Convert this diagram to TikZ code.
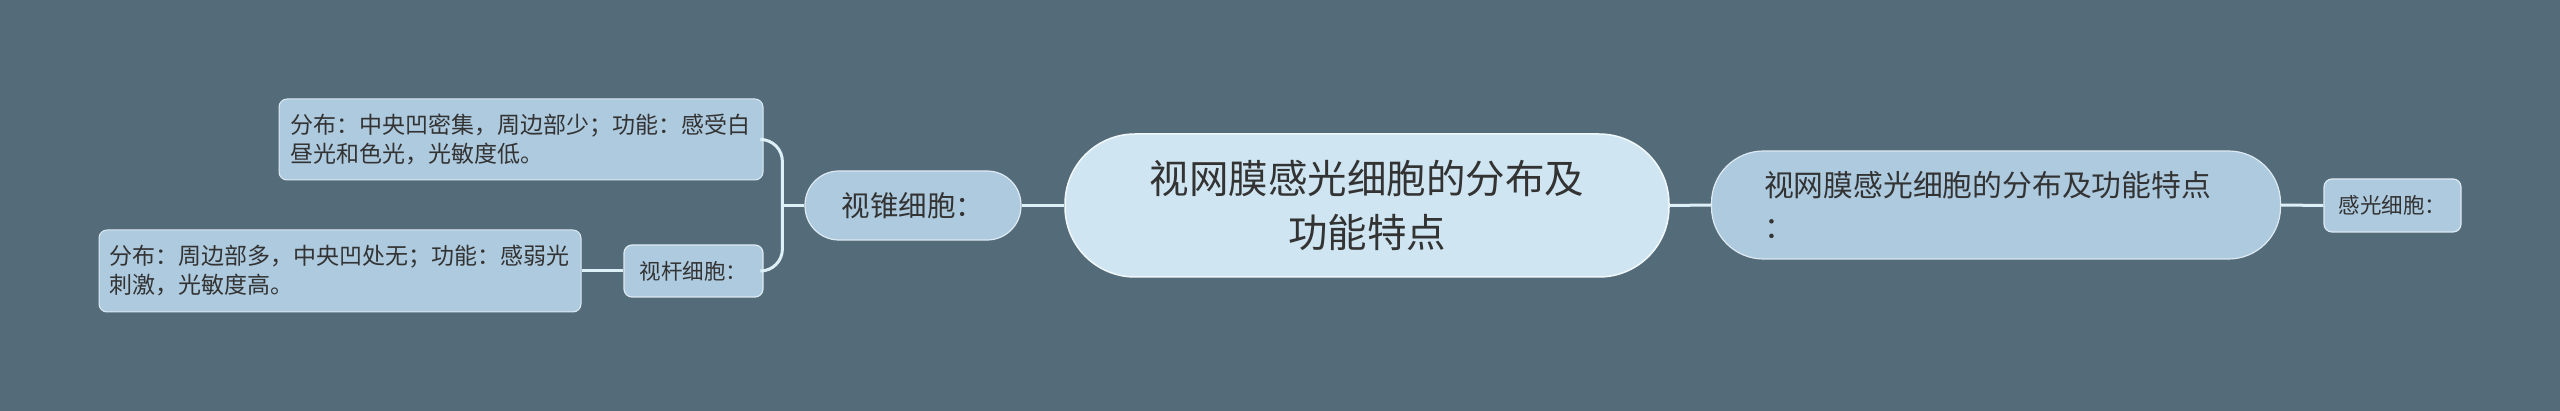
\documentclass[tikz,border=0pt]{standalone}
\usepackage{fontspec}
\setmainfont{Noto Sans CJK SC}
\definecolor{bgcol}{HTML}{546B7A}
\definecolor{rootcol}{HTML}{CFE6F2}
\definecolor{midcol}{HTML}{ADCADF}
\definecolor{linkcol}{HTML}{DDEFF7}
\definecolor{txtcol}{HTML}{333333}
\begin{document}
\begin{tikzpicture}[x=1pt, y=-1pt,
        root/.style={draw=white!70!rootcol, line width=1.5pt, fill=rootcol, rounded corners=70pt,
            minimum width=604pt, minimum height=143pt, align=center, text=txtcol,
            font=\fontsize{39.5}{54}\selectfont},
        branch/.style={draw=white!60!midcol, line width=1.2pt, fill=midcol, text=txtcol, inner sep=0pt},
        leaf/.style={draw=white!60!midcol, line width=1pt, fill=midcol, rounded corners=8pt, text=txtcol,
            inner sep=0pt, align=left, font=\fontsize{23}{29}\selectfont},
        link/.style={linkcol, line width=3pt}]
        \useasboundingbox[fill=bgcol] (0, 0) rectangle (2560, 411);

        % centre
        \node[root] (main) at (1367, 205.5) {视网膜感光细胞的分布及\\功能特点};

        % right side
        \node[branch, rounded corners=52pt, minimum width=569pt, minimum height=108pt,
            text width=464pt, align=left, font=\fontsize{29.8}{42}\selectfont]
            (sub) at (1996, 205) {视网膜感光细胞的分布及功能特点\\：};
        \node[branch, rounded corners=8pt, minimum width=137pt, minimum height=53pt,
            font=\fontsize{21.5}{25}\selectfont] (gan) at (2392.5, 205.5) {感光细胞：};

        % left side
        \node[branch, rounded corners=34pt, minimum width=216pt, minimum height=69pt,
            font=\fontsize{28.5}{32}\selectfont] (zhui) at (913, 205.5) {视锥细胞：};
        \node[leaf, minimum width=484pt, minimum height=81pt, text width=462pt]
            (zhuileaf) at (521, 139.5) {分布：中央凹密集，周边部少；功能：感受白\\昼光和色光，光敏度低。};
        \node[branch, rounded corners=8pt, minimum width=139pt, minimum height=52pt,
            font=\fontsize{21.5}{25}\selectfont] (gan2) at (693.5, 271) {视杆细胞：};
        \node[leaf, minimum width=482pt, minimum height=82pt, text width=462pt]
            (ganleaf) at (340, 271) {分布：周边部多，中央凹处无；功能：感弱光\\刺激，光敏度高。};

        % connectors
        \draw[link] (main.west) -- (zhui.east);
        \draw[link] (main.east) -- (sub.west);
        \draw[link] (sub.east) -- (gan.west);
        \draw[link] (zhui.west) -- ++(-22, 0) coordinate (fork);
        \draw[link, rounded corners=22pt] (zhuileaf.east) -| (fork) |- (gan2.east);
        \draw[link] (gan2.west) -- (ganleaf.east);
    \end{tikzpicture}
\end{document}
